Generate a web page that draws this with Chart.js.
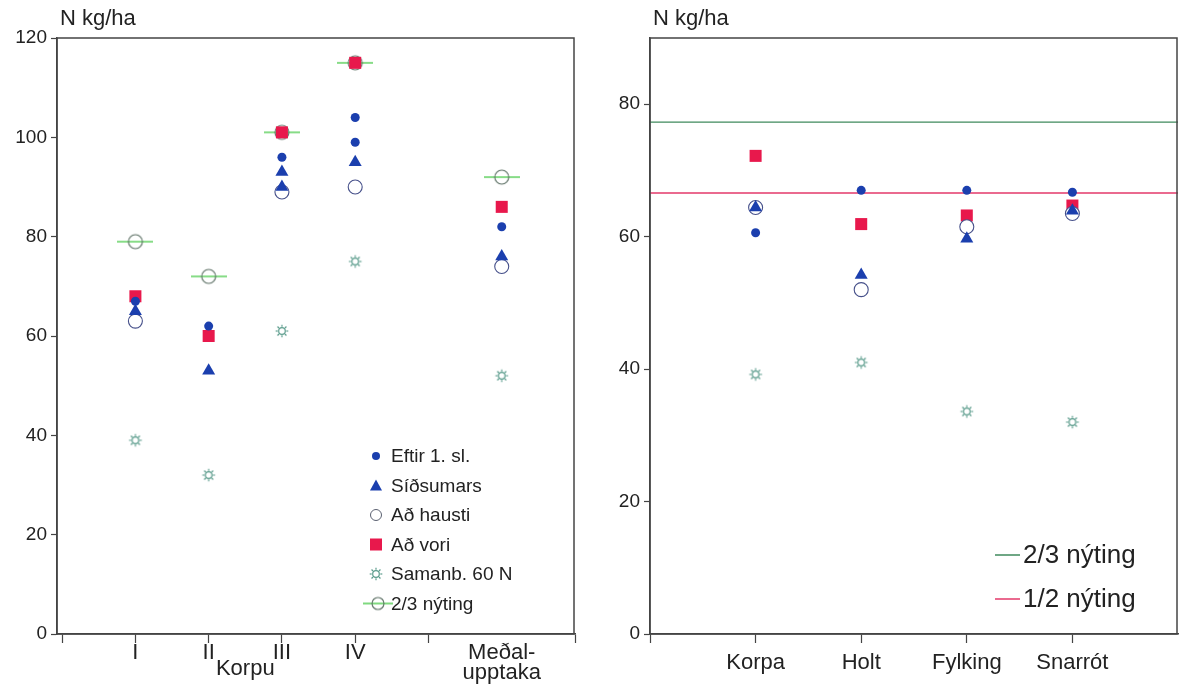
<!DOCTYPE html>
<html>
<head>
<meta charset="utf-8">
<script src="https://cdn.jsdelivr.net/npm/chart.js@4.4.1/dist/chart.umd.min.js"></script>
<style>
  html, body { margin: 0; padding: 0; background: #fff; }
  #wrap { position: relative; width: 1179px; height: 691px; overflow: hidden; }
  .panel { position: absolute; top: 0; }
</style>
</head>
<body>
<div id="wrap">
  <div class="panel" style="left:0"><canvas id="left" width="590" height="691"></canvas></div>
  <div class="panel" style="left:590px"><canvas id="right" width="589" height="691"></canvas></div>
</div>
<script>
// ---- data: left panel (Korpu I-IV + average) ----
const leftCats = ['I', 'II', 'III', 'IV', ['Meðal-', 'upptaka']];
const leftPos = [1, 2, 3, 4, 6];
const leftGroup = 'Korpu';
const eftirL = [[67], [62], [96], [104, 99], [82]];
const sidsumarsL = [[65], [53], [93, 90], [95], [76]];
const haustiL = [63, null, 89, 90, 74];
const voriL = [68, 60, 101, 115, 86];
const samanbL = [39, 32, 61, 75, 52];
const nyting23L = [79, 72, 101, 115, 92];

// ---- data: right panel (grass species) ----
const rightCats = ['Korpa', 'Holt', 'Fylking', 'Snarrót'];
const rightPos = [1, 2, 3, 4];
const eftirR = [60.6, 67, 67, 66.7];
const sidsumarsR = [64.4, 54.2, 59.7, 63.9];
const haustiR = [64.4, 52, 61.5, 63.5];
const voriR = [72.2, 61.9, 63.2, 64.7];
const samanbR = [39.2, 41, 33.6, 32];
const nyting23R = 77.3;
const nyting12R = 66.6;

const yTicksL = [0, 20, 40, 60, 80, 100, 120];
const yTicksR = [0, 20, 40, 60, 80];

const FONT = '"Liberation Sans", Arial, sans-serif';
const BLUE = '#1b3fae';
const RED = '#e8184c';
const AXIS = '#444';
const TXT = '#222';
Chart.defaults.font.family = FONT;
Chart.defaults.color = TXT;

function toPoints(pos, vals) {
  const out = [];
  vals.forEach((v, i) => {
    if (v == null) return;
    (Array.isArray(v) ? v : [v]).forEach(y => out.push({ x: pos[i], y: y }));
  });
  return out;
}

// small "sun" marker used for Samanb. 60 N
function sunImage() {
  const c = document.createElement('canvas');
  c.width = 16; c.height = 16;
  const g = c.getContext('2d');
  g.strokeStyle = '#5b9c8c';
  g.lineWidth = 1.2;
  g.beginPath(); g.arc(8, 8, 3.3, 0, Math.PI * 2); g.stroke();
  for (let k = 0; k < 8; k++) {
    const a = k * Math.PI / 4;
    g.beginPath();
    g.moveTo(8 + Math.cos(a) * 4.3, 8 + Math.sin(a) * 4.3);
    g.lineTo(8 + Math.cos(a) * 6.3, 8 + Math.sin(a) * 6.3);
    g.stroke();
  }
  return c;
}

// open circle crossed by a green bar, for 2/3 nýting
function nytingImage(w, r) {
  const c = document.createElement('canvas');
  c.width = w; c.height = 18;
  const g = c.getContext('2d');
  g.strokeStyle = '#5fd05f';
  g.lineWidth = 1.6;
  g.beginPath(); g.moveTo(0, 9); g.lineTo(w, 9); g.stroke();
  g.strokeStyle = '#5b6f63';
  g.lineWidth = 1.1;
  g.beginPath(); g.arc(w / 2, 9, r, 0, Math.PI * 2); g.stroke();
  return c;
}

const sunImg = sunImage();
const nytImg = nytingImage(36, 7);
const nytLegImg = nytingImage(30, 6);

function markerSets(pos, eftir, sids, haust, vori, saman) {
  return [
    { label: 'Eftir 1. sl.', kind: 'dot', data: toPoints(pos, eftir), pointStyle: 'circle', pointRadius: 4.5, backgroundColor: BLUE, borderColor: BLUE, borderWidth: 0 },
    { label: 'Síðsumars', kind: 'tri', data: toPoints(pos, sids), pointStyle: 'triangle', pointRadius: 7.5, backgroundColor: BLUE, borderColor: BLUE, borderWidth: 0 },
    { label: 'Að hausti', kind: 'ring', data: toPoints(pos, haust), pointStyle: 'circle', pointRadius: 7, backgroundColor: '#fff', borderColor: '#46508a', borderWidth: 1.1 },
    { label: 'Að vori', kind: 'sq', data: toPoints(pos, vori), pointStyle: 'rect', pointRadius: 8.5, backgroundColor: RED, borderColor: RED, borderWidth: 0 },
    { label: 'Samanb. 60 N', kind: 'sun', data: toPoints(pos, saman), pointStyle: sunImg, pointRadius: 6 }
  ];
}

function drawMarker(ctx, kind, x, y) {
  ctx.save();
  if (kind === 'dot') {
    ctx.fillStyle = BLUE; ctx.beginPath(); ctx.arc(x, y, 4, 0, Math.PI * 2); ctx.fill();
  } else if (kind === 'tri') {
    ctx.fillStyle = BLUE; ctx.beginPath();
    ctx.moveTo(x, y - 6); ctx.lineTo(x + 6, y + 5); ctx.lineTo(x - 6, y + 5); ctx.closePath(); ctx.fill();
  } else if (kind === 'ring') {
    ctx.strokeStyle = '#5a6070'; ctx.lineWidth = 1; ctx.beginPath(); ctx.arc(x, y, 5.5, 0, Math.PI * 2); ctx.stroke();
  } else if (kind === 'sq') {
    ctx.fillStyle = RED; ctx.fillRect(x - 6, y - 6, 12, 12);
  } else if (kind === 'sun') {
    ctx.drawImage(sunImg, x - 8, y - 8);
  } else if (kind === 'nyt') {
    ctx.drawImage(nytLegImg, x - 13, y - 9);
  } else if (kind && kind.line) {
    ctx.strokeStyle = kind.line; ctx.lineWidth = 1.5;
    ctx.beginPath(); ctx.moveTo(x - 13, y); ctx.lineTo(x + 12, y); ctx.stroke();
  }
  ctx.restore();
}

// frame, unit label, group label and in-plot legend
const decor = {
  id: 'decor',
  afterDraw(chart, args, opts) {
    const { ctx, chartArea: a } = chart;
    ctx.save();
    ctx.strokeStyle = AXIS;
    ctx.lineWidth = 1.5;
    ctx.strokeRect(a.left, a.top, a.right - a.left - 1, a.bottom - a.top);
    ctx.fillStyle = TXT;
    ctx.font = '22px ' + FONT;
    ctx.textBaseline = 'middle';
    ctx.textAlign = 'left';
    ctx.fillText('N kg/ha', a.left + 3, 19);
    if (opts.group) {
      ctx.textAlign = 'center';
      ctx.fillText(opts.group.text, chart.scales.x.getPixelForValue(opts.group.at), opts.group.y);
    }
    const lg = opts.legend;
    ctx.font = lg.size + 'px ' + FONT;
    ctx.textAlign = 'left';
    lg.items.forEach((it, i) => {
      const y = lg.y + i * lg.step;
      drawMarker(ctx, it.kind, lg.x, y);
      ctx.fillStyle = TXT;
      ctx.fillText(it.label, lg.x + lg.gap, y + 1);
    });
    ctx.restore();
  }
};

function axes(o) {
  return {
    x: {
      type: 'linear', min: o.xmin, max: o.xmax,
      afterBuildTicks: s => { s.ticks = o.xTicks.map(v => ({ value: v })); },
      afterFit: s => { s.height = 57; s.paddingLeft = 0; s.paddingRight = 0; },
      border: { color: AXIS, width: 1.5 },
      grid: { drawOnChartArea: false, tickLength: 9, tickColor: c => (o.tickHide.includes(c.tick && c.tick.value) ? 'rgba(0,0,0,0)' : AXIS), tickWidth: 1.2 },
      ticks: { font: { size: 22, lineHeight: o.lineHeight }, color: TXT, padding: o.pad, maxRotation: 0, autoSkip: false, callback: v => o.label(v) }
    },
    y: {
      min: 0, max: o.ymax,
      afterBuildTicks: s => { s.ticks = o.yTicks.map(v => ({ value: v })); },
      afterFit: s => { s.width = o.yWidth; },
      border: { color: AXIS, width: 1.5 },
      grid: { drawOnChartArea: false, tickLength: 6, tickColor: AXIS, tickWidth: 1.2 },
      ticks: { font: { size: 19 }, color: TXT, padding: 4 }
    }
  };
}

// ---- left chart ----
const leftSets = markerSets(leftPos, eftirL, sidsumarsL, haustiL, voriL, samanbL);
leftSets.push({ label: '2/3 nýting', kind: 'nyt', data: toPoints(leftPos, nyting23L), pointStyle: nytImg, pointRadius: 7 });

new Chart(document.getElementById('left'), {
  type: 'scatter',
  data: { datasets: leftSets },
  options: {
    responsive: false, animation: false, devicePixelRatio: 1,
    layout: { autoPadding: false, padding: { top: 38, right: 15, left: 0, bottom: 0 } },
    scales: axes({
      xmin: -0.07, xmax: 7, xTicks: [0, 1, 2, 3, 4, 5, 6, 7], tickHide: [6],
      label: v => { const i = leftPos.indexOf(v); return i < 0 ? '' : leftCats[i]; },
      lineHeight: 0.9, pad: 0, yTicks: yTicksL, ymax: 120, yWidth: 57
    }),
    plugins: {
      legend: { display: false }, tooltip: { enabled: false },
      decor: {
        group: { text: leftGroup, at: 2.5, y: 669 },
        legend: { x: 376, y: 456, step: 29.5, gap: 15, size: 19, items: leftSets.map(d => ({ label: d.label, kind: d.kind })) }
      }
    }
  },
  plugins: [decor]
});

// ---- right chart ----
const rightSets = markerSets(rightPos, eftirR, sidsumarsR, haustiR, voriR, samanbR);
const lineSets = [
  { label: '2/3 nýting', color: '#3f8a5c', value: nyting23R },
  { label: '1/2 nýting', color: '#e3386a', value: nyting12R }
];
lineSets.forEach(l => rightSets.push({
  type: 'line', label: l.label, kind: { line: l.color },
  data: [{ x: 0, y: l.value }, { x: 5, y: l.value }],
  borderColor: l.color, borderWidth: 1.4, pointRadius: 0, showLine: true
}));

new Chart(document.getElementById('right'), {
  type: 'scatter',
  data: { datasets: rightSets },
  options: {
    responsive: false, animation: false, devicePixelRatio: 1,
    layout: { autoPadding: false, padding: { top: 38, right: 1, left: 0, bottom: 0 } },
    scales: axes({
      xmin: 0, xmax: 5, xTicks: [0, 1, 2, 3, 4], tickHide: [],
      label: v => { const i = rightPos.indexOf(v); return i < 0 ? '' : rightCats[i]; },
      lineHeight: 1.2, pad: 7, yTicks: yTicksR, ymax: 90, yWidth: 60
    }),
    plugins: {
      legend: { display: false }, tooltip: { enabled: false },
      decor: {
        legend: { x: 418, y: 555, step: 44, gap: 15, size: 26, items: lineSets.map(l => ({ label: l.label, kind: { line: l.color } })) }
      }
    }
  },
  plugins: [decor]
});
</script>
</body>
</html>
